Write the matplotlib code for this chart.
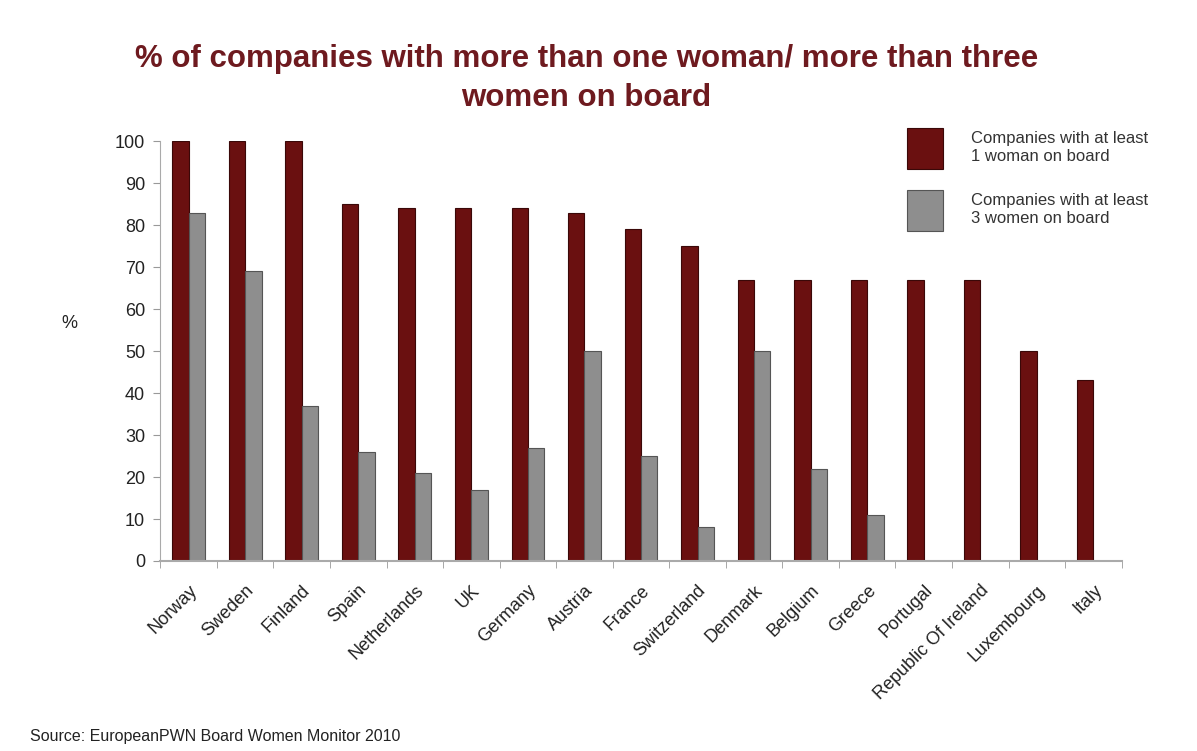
import matplotlib.pyplot as plt
import numpy as np

plt.rcParams['font.family'] = ['Liberation Sans', 'DejaVu Sans']

countries = ['Norway', 'Sweden', 'Finland', 'Spain', 'Netherlands', 'UK', 'Germany',
             'Austria', 'France', 'Switzerland', 'Denmark', 'Belgium', 'Greece',
             'Portugal', 'Republic Of Ireland', 'Luxembourg', 'Italy']
one_woman = [100, 100, 100, 85, 84, 84, 84, 83, 79, 75, 67, 67, 67, 67, 67, 50, 43]
three_women = [83, 69, 37, 26, 21, 17, 27, 50, 25, 8, 50, 22, 11, 0, 0, 0, 0]

red = '#6a1010'
grey = '#8e8e8e'
title_col = '#6e1a1f'

fig = plt.figure(figsize=(11.97, 7.51), dpi=100)
ax = fig.add_axes([0.134, 0.253, 0.803, 0.559])

x = np.arange(len(countries))
w = 0.29
ax.bar(x - w / 2, one_woman, w, color=red, edgecolor='#3a0808', linewidth=0.8,
       label='Companies with at least\n1 woman on board')
ax.bar(x + w / 2, three_women, w, color=grey, edgecolor='#555555', linewidth=0.8,
       label='Companies with at least\n3 women on board')

ax.set_xlim(-0.5, len(countries) - 0.5)
ax.set_ylim(0, 100)
ax.set_yticks(range(0, 101, 10))
ax.tick_params(axis='y', labelsize=13, colors='#222222', length=5, color='#999999', pad=6)
ax.set_xticks(x)
ax.set_xticklabels(countries, rotation=45, ha='right', rotation_mode='anchor',
                   fontsize=13, color='#222222')
ax.tick_params(axis='x', length=0, pad=15)
ax.set_xticks(np.arange(-0.5, len(countries), 1), minor=True)
ax.tick_params(axis='x', which='minor', length=5, color='#999999')

for s in ['top', 'right']:
    ax.spines[s].set_visible(False)
ax.spines['left'].set_color('#aaaaaa')
ax.spines['bottom'].set_color('#aaaaaa')
ax.spines['bottom'].set_linewidth(1.5)

ax.set_ylabel('%', rotation=0, fontsize=13, color='#222222')
ax.yaxis.set_label_coords(-0.095, 0.545)

leg = fig.legend(loc='upper left', bbox_to_anchor=(0.758, 0.829), frameon=False,
                 fontsize=12, handlelength=2.15, handleheight=3.4,
                 labelspacing=1.25, handletextpad=1.7, borderpad=0, borderaxespad=0)
for t in leg.get_texts():
    t.set_color('#333333')

fig.text(0.49, 0.896, '% of companies with more than one woman/ more than three\nwomen on board',
         ha='center', va='center', fontsize=22.5, fontweight='bold', color=title_col,
         linespacing=1.4)

fig.text(0.025, 0.013, 'Source: EuropeanPWN Board Women Monitor 2010', fontsize=11.5,
         color='#222222')

fig.savefig('out.png', dpi=100)
